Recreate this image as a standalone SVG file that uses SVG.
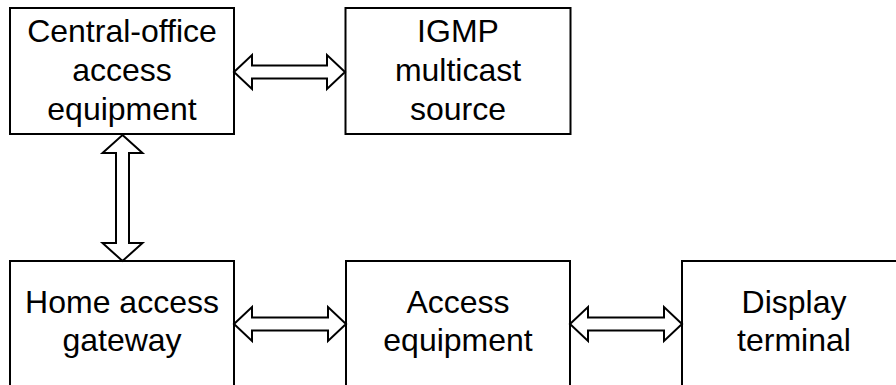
<svg xmlns="http://www.w3.org/2000/svg" width="896" height="385" viewBox="0 0 896 385">
<style>
.box{fill:#fff;stroke:#000;stroke-width:2}
.arr{fill:#fff;stroke:#000;stroke-width:2;stroke-linejoin:miter}
text{font-family:"Liberation Sans",Arial,sans-serif;font-size:32px;fill:#000;text-anchor:middle}
</style>
<rect width="896" height="385" fill="#fff"/>
<g id="co">
<rect class="box" x="10" y="8" width="224" height="126"/>
<text x="122" y="42">Central-office</text>
<text x="122" y="81">access</text>
<text x="122" y="120">equipment</text>
</g>
<g id="igmp">
<rect class="box" x="345.5" y="8" width="225" height="126"/>
<text x="458" y="42">IGMP</text>
<text x="458" y="81">multicast</text>
<text x="458" y="120">source</text>
</g>
<g id="home">
<rect class="box" x="10" y="261" width="224" height="150"/>
<text x="122" y="313">Home access</text>
<text x="122" y="351">gateway</text>
</g>
<g id="access">
<rect class="box" x="346" y="261" width="224" height="150"/>
<text x="458" y="313">Access</text>
<text x="458" y="351">equipment</text>
</g>
<g id="display">
<rect class="box" x="682" y="261" width="225" height="150"/>
<text x="794" y="313">Display</text>
<text x="794" y="351">terminal</text>
</g>
<g id="connectors">
<path class="arr" d="M234,72 L252,55 L252,65.5 L327,65.5 L327,55 L345,72 L327,89 L327,78.5 L252,78.5 L252,89 Z"/>
<path class="arr" d="M122.5,135 L142.5,153 L129,153 L129,243 L142.5,243 L122.5,261 L102.5,243 L116,243 L116,153 L102.5,153 Z"/>
<path class="arr" d="M234,324 L252,307 L252,317.5 L328,317.5 L328,307 L346,324 L328,341 L328,330.5 L252,330.5 L252,341 Z"/>
<path class="arr" d="M570,324 L588,307 L588,317.5 L664,317.5 L664,307 L682,324 L664,341 L664,330.5 L588,330.5 L588,341 Z"/>
</g>
</svg>
